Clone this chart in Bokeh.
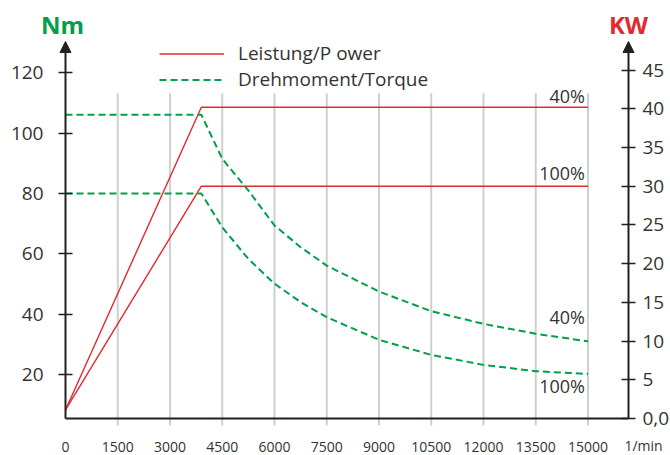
from bokeh.plotting import figure
from bokeh.models import (Range1d, LinearAxis, FixedTicker, Arrow, NormalHead,
                          Label, Legend, LegendItem)
from bokeh.embed import file_html
from bokeh.resources import INLINE

# ---------------- data ----------------
rpm_ticks = [0, 1500, 3000, 4500, 6000, 7500, 9000, 10500, 12000, 13500, 15000]
nm_ticks = [20, 40, 60, 80, 100, 120]
kw_ticks = [0, 5, 10, 15, 20, 25, 30, 35, 40, 45]
kw_zero_label = "0,0"
x_unit = "1/min"
left_title = "Nm"
right_title = "KW"
legend_power = "Leistung/P ower"
legend_torque = "Drehmoment/Torque"

# power (KW, right axis)
rpm_power = [0, 3900, 15000]
power_40 = [1.1, 40.2, 40.2]
power_100 = [1.1, 30.0, 30.0]

# torque (Nm, left axis)
rpm_torque = [0, 3900, 4500, 5250, 6000, 6750, 7500, 9000, 10500, 12000, 13500, 15000]
torque_40 = [106.1, 106.1, 91.5, 81.0, 69.4, 62.2, 56.1, 47.5, 41.0, 36.8, 33.5, 31.0]
torque_100 = [80.0, 80.0, 68.8, 58.3, 50.1, 44.0, 39.0, 31.5, 26.5, 23.2, 21.1, 20.2]

label_40 = "40%"
label_100 = "100%"

# ---------------- style / layout ----------------
RED = "#e5282e"
GREEN = "#00a04a"
AXIS = "#231f20"
TXT = "#333333"
GRID = "#cdd0d0"
FONT = "Open Sans"

W, H = 670, 455
X_RANGE = (-1866, 17369)      # frame covers whole canvas
NM_RANGE = (-6.84, 143.97)
KW_RANGE = (-4.779, 53.99)
X_END = 16163                  # position of right axis
KW_TOP = 48.69                 # arrow tips
GRID_BOTTOM = -0.904
GRID_TOP = 42.0

p = figure(width=W, height=H, title=None,
           x_range=Range1d(*X_RANGE), y_range=Range1d(*NM_RANGE),
           x_axis_location=None, y_axis_location=None,
           output_backend="svg", toolbar_location=None,
           min_border=0, min_border_left=0, min_border_right=0,
           min_border_top=0, min_border_bottom=0,
           outline_line_color=None)
p.extra_y_ranges = {"kw": Range1d(*KW_RANGE)}
p.grid.visible = False

# x axis (fixed at KW = 0)
xa = LinearAxis(y_range_name="kw", fixed_location=0)
xa.ticker = FixedTicker(ticks=rpm_ticks)
xa.axis_line_color = None
xa.major_tick_line_color = None
xa.minor_tick_line_color = None
xa.major_label_standoff = 17
xa.major_label_text_font = FONT
xa.major_label_text_font_size = "14px"
xa.major_label_text_color = TXT
p.add_layout(xa, "below")

# left axis (Nm) fixed at rpm = 0
ya = LinearAxis(fixed_location=0)
ya.ticker = FixedTicker(ticks=nm_ticks)
ya.axis_line_color = None
ya.major_tick_in = 7
ya.major_tick_out = 7
ya.major_tick_line_color = AXIS
ya.major_tick_line_width = 1.5
ya.minor_tick_line_color = None
ya.major_label_standoff = 15
ya.major_label_text_font = FONT
ya.major_label_text_font_size = "19px"
ya.major_label_text_color = TXT
p.add_layout(ya, "left")

# right axis (KW) fixed at X_END
ra = LinearAxis(y_range_name="kw", fixed_location=X_END)
ra.ticker = FixedTicker(ticks=kw_ticks)
ra.major_label_overrides = {0: kw_zero_label}
ra.axis_line_color = None
ra.major_tick_in = 7
ra.major_tick_out = 7
ra.major_tick_line_color = AXIS
ra.major_tick_line_width = 1.5
ra.minor_tick_line_color = None
ra.major_label_standoff = 7
ra.major_label_text_font = FONT
ra.major_label_text_font_size = "19px"
ra.major_label_text_color = TXT
p.add_layout(ra, "right")

# vertical grid lines
gx = rpm_ticks[1:]
p.segment(x0=gx, y0=[GRID_BOTTOM] * len(gx), x1=gx, y1=[GRID_TOP] * len(gx),
          y_range_name="kw", line_color=GRID, line_width=2)

# curves
r_p40 = p.line(rpm_power, power_40, y_range_name="kw", line_color=RED, line_width=1.4)
r_p100 = p.line(rpm_power, power_100, y_range_name="kw", line_color=RED, line_width=1.4)
r_t40 = p.line(rpm_torque, torque_40, line_color=GREEN, line_width=2, line_dash="7 4")
r_t100 = p.line(rpm_torque, torque_100, line_color=GREEN, line_width=2, line_dash="7 4")

# axis lines with arrows
p.add_layout(Arrow(x_start=0, y_start=0, x_end=X_END, y_end=0, end=None,
                   y_range_name="kw", line_color=AXIS, line_width=2))
for xx in (0, X_END):
    p.add_layout(Arrow(x_start=xx, y_start=0, x_end=xx, y_end=KW_TOP,
                       y_range_name="kw", line_color=AXIS, line_width=2,
                       end=NormalHead(size=11, fill_color=AXIS, line_color=AXIS, line_width=1)))

# titles
p.add_layout(Label(x=0, y=KW_TOP, y_range_name="kw", text=left_title,
                   text_font=FONT, text_font_style="bold", text_font_size="24px",
                   text_color=GREEN, text_align="center", text_baseline="alphabetic",
                   x_offset=-3, y_offset=17))
p.add_layout(Label(x=X_END, y=KW_TOP, y_range_name="kw", text=right_title,
                   text_font=FONT, text_font_style="bold", text_font_size="24px",
                   text_color=RED, text_align="center", text_baseline="alphabetic",
                   x_offset=0, y_offset=17))

# unit label, in line with the x tick labels
p.add_layout(Label(x=X_END, y=0, y_range_name="kw", text=x_unit,
                   text_font=FONT, text_font_size="14px", text_color=TXT,
                   text_align="center", text_baseline="top", x_offset=15, y_offset=-17))

# percentage labels
def pct(x, y, text, dy, rng=None):
    kw = dict(x=x, y=y, text=text, text_font=FONT, text_font_size="18px",
              text_color=TXT, text_align="right", text_baseline="alphabetic",
              x_offset=-3, y_offset=dy)
    if rng:
        kw["y_range_name"] = rng
    p.add_layout(Label(**kw))

pct(rpm_power[-1], power_40[-1], label_40, 11, "kw")
pct(rpm_power[-1], power_100[-1], label_100, 13, "kw")
pct(rpm_torque[-1], torque_40[-1], label_40, 24)
pct(rpm_torque[-1], torque_100[-1], label_100, -12)

# legend
legend = Legend(items=[LegendItem(label=legend_power, renderers=[r_p40]),
                       LegendItem(label=legend_torque, renderers=[r_t40])],
                location=(159, 363), border_line_color=None, background_fill_alpha=0,
                padding=0, margin=0, spacing=0, glyph_width=65, glyph_height=25,
                label_height=25, label_standoff=14, label_text_font=FONT,
                label_text_font_size="19px", label_text_color=TXT)
p.add_layout(legend)

open("out.html", "w").write(file_html(p, INLINE))
